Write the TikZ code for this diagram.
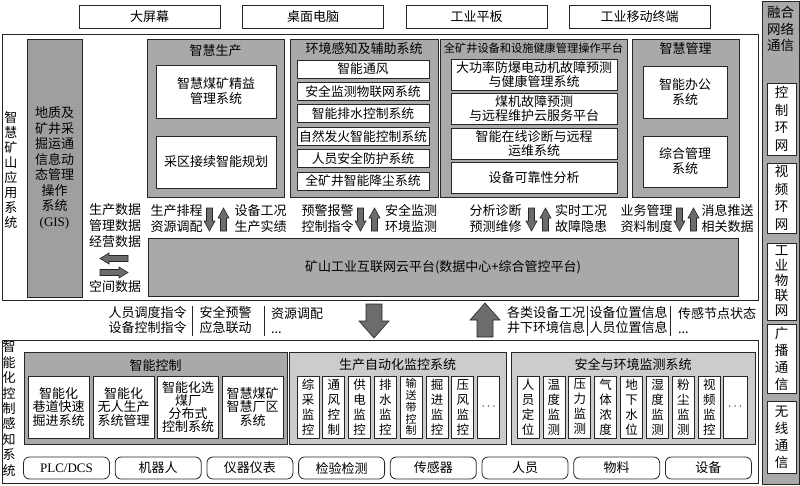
\documentclass[tikz,border=0pt]{standalone}
\usepackage{fontspec}
\setmainfont{Liberation Serif}
\newfontfamily\cjk{Noto Sans CJK SC}
\definecolor{gdark}{HTML}{A9A9A9}
\definecolor{ggis}{HTML}{9F9F9F}
\definecolor{glight}{HTML}{CCCCCC}
\definecolor{garrow}{HTML}{6C6C6C}
\definecolor{linec}{HTML}{262626}
\tikzset{
 fs/.style 2 args={font=\cjk\fontsize{#1}{#2}\selectfont},
 bx/.style 2 args={draw=linec, line width=0.8pt, minimum width=#1pt, minimum height=#2pt},
 wbox/.style 2 args={bx={#1}{#2}, fill=white},
 dbox/.style 2 args={bx={#1}{#2}, fill=gdark},
 lbox/.style 2 args={bx={#1}{#2}, fill=glight},
 rbox/.style={bx={86}{22}, fill=white, rounded corners=6pt},
 arr/.style={fill=garrow, draw=linec, line width=0.6pt, line join=miter},
 sep/.style={draw=linec, line width=0.6pt},
}
\begin{document}
\begin{tikzpicture}[x=1pt,y=-1pt,
 every node/.style={inner sep=0pt, outer sep=0pt, align=center, fs={13}{15}}]
\useasboundingbox (0,0) rectangle (800,485);

% frames
\node[bx={756}{266}] (app) at (380,167) {};
\node[bx={756}{143}] (ctl) at (380,411.5) {};
\node[dbox={37}{483}] (net) at (780.5,242.5) {};

% top devices
\node[wbox={141}{23}] (t1) at (149.5,16.5) {大屏幕};
\node[wbox={141}{23}] (t2) at (313,16.5) {桌面电脑};
\node[wbox={141}{23}] (t3) at (476.5,16.5) {工业平板};
\node[wbox={141}{23}] (t4) at (639.5,16.5) {工业移动终端};

% right column
\node[fs={13.5}{16.5}] (netT) at (780.5,29) {融合\\网络\\通信};
\node[wbox={29}{72}, fs={13.5}{17.5}] (n1) at (781.5,119) {控\\制\\环\\网};
\node[wbox={29}{70}, fs={13.5}{17.5}] (n2) at (781.5,198) {视\\频\\环\\网};
\node[wbox={29}{77}, fs={13.5}{15}] (n3) at (781.5,281.5) {工\\业\\物\\联\\网};
\node[wbox={29}{69}, fs={13.5}{17}] (n4) at (781.5,358.5) {广\\播\\通\\信};
\node[wbox={29}{72}, fs={13.5}{17}] (n5) at (781.5,437) {无\\线\\通\\信};

% upper section
\node (appL) at (11,170) {智\\慧\\矿\\山\\应\\用\\系\\统};
\node[bx={55}{258}, fill=ggis, fs={13}{15.5}] (gis) at (54.5,168) {地质及\\矿井采\\掘运通\\信息动\\态管理\\操作\\系统\\{\rmfamily (GIS)}};

\node[dbox={137}{158}] (m1) at (215.5,118) {};
\node (m1t) at (215.5,51) {智慧生产};
\node[wbox={120}{53}] (m1a) at (216,91.5) {智慧煤矿精益\\管理系统};
\node[wbox={120}{52}] (m1b) at (216,162) {采区接续智能规划};

\node[dbox={148}{158}] (m2) at (364,118) {};
\node (m2t) at (364,49) {环境感知及辅助系统};
\node[wbox={132}{18}, fs={12.8}{15}] (m2a) at (363,69) {智能通风};
\node[wbox={132}{18}, fs={12.8}{15}] (m2b) at (363,91.4) {安全监测物联网系统};
\node[wbox={132}{18}, fs={12.8}{15}] (m2c) at (363,113.8) {智能排水控制系统};
\node[wbox={132}{18}, fs={12.8}{15}] (m2d) at (363,136.2) {自然发火智能控制系统};
\node[wbox={132}{18}, fs={12.8}{15}] (m2e) at (363,158.6) {人员安全防护系统};
\node[wbox={132}{18}, fs={12.8}{15}] (m2f) at (363,181) {全矿井智能降尘系统};

\node[dbox={187}{158}] (m3) at (533.5,118) {};
\node[fs={11.2}{13}] (m3t) at (533.5,48) {全矿井设备和设施健康管理操作平台};
\node[wbox={166}{31}, fs={13}{14}] (m3a) at (534,74.5) {大功率防爆电动机故障预测\\与健康管理系统};
\node[wbox={166}{31}, fs={13}{14}] (m3b) at (534,109) {煤机故障预测\\与远程维护云服务平台};
\node[wbox={166}{31}, fs={13}{14}] (m3c) at (534,143.5) {智能在线诊断与远程\\运维系统};
\node[wbox={166}{31}, fs={13}{14}] (m3d) at (534,177.5) {设备可靠性分析};

\node[dbox={107}{158}] (m4) at (685.5,118) {};
\node (m4t) at (685.5,49) {智慧管理};
\node[wbox={84}{52}] (m4a) at (685,92) {智能办公\\系统};
\node[wbox={84}{51}] (m4b) at (685,161.5) {综合管理\\系统};

% data flow labels
\node[align=left, fs={13}{16}] (ld1) at (115,226) {生产数据\\管理数据\\经营数据};
\node (ld2) at (115,287) {空间数据};
\draw[arr] (100,258.5) -- (109,253) -- (109,255.5) -- (128,255.5) -- (128,261.5) -- (109,261.5) -- (109,264) -- cycle;
\draw[arr] (128,272.5) -- (119,267) -- (119,269.5) -- (100,269.5) -- (100,275.5) -- (119,275.5) -- (119,278) -- cycle;

\node[fs={13}{16.5}] (f1) at (176.5,218.5) {生产排程\\资源调配};
\node[fs={13}{16.5}] (f2) at (260.5,218.5) {设备工况\\生产实绩};
\node[fs={13}{16.5}] (f3) at (327.5,218.5) {预警报警\\控制指令};
\node[fs={13}{16.5}] (f4) at (411,218.5) {安全监测\\环境监测};
\node[fs={13}{16.5}] (f5) at (495.5,218.5) {分析诊断\\预测维修};
\node[fs={13}{16.5}] (f6) at (581,218.5) {实时工况\\故障隐患};
\node[fs={13}{16.5}] (f7) at (646.5,218.5) {业务管理\\资料制度};
\node[fs={13}{16.5}] (f8) at (727.5,218.5) {消息推送\\相关数据};
\foreach \c in {209.5,360.5,531.5,679.5}{
 \draw[arr] (\c-3,208) -- (\c+3,208) -- (\c+3,221) -- (\c+5.5,221) -- (\c,231) -- (\c-5.5,221) -- (\c-3,221) -- cycle;
 \draw[arr] (\c+14-3,231) -- (\c+14+3,231) -- (\c+14+3,218) -- (\c+14+5.5,218) -- (\c+14,208) -- (\c+14-5.5,218) -- (\c+14-3,218) -- cycle;
}

\node[dbox={590}{58}] (cloud) at (443,267) {矿山工业互联网云平台(数据中心+综合管控平台)};

% band between sections
\node (b1) at (147.5,320.5) {人员调度指令\\设备控制指令};
\node (b2) at (225.5,320.5) {安全预警\\应急联动};
\node[align=left, anchor=west] (b3) at (271,320.5) {资源调配\\...};
\node (b4) at (546,320.5) {各类设备工况\\井下环境信息};
\node (b5) at (628.5,320.5) {设备位置信息\\人员位置信息};
\node[align=left, anchor=west] (b6) at (678,320.5) {传感节点状态\\...};
\coordinate (s1a) at (192,306); \coordinate (s1b) at (192,336);
\coordinate (s2a) at (264,306); \coordinate (s2b) at (264,336);
\coordinate (s3a) at (587,306); \coordinate (s3b) at (587,336);
\coordinate (s4a) at (670,306); \coordinate (s4b) at (670,336);
\draw[sep] (s1a) -- (s1b); \draw[sep] (s2a) -- (s2b);
\draw[sep] (s3a) -- (s3b); \draw[sep] (s4a) -- (s4b);
\draw[arr] (366,304) -- (382,304) -- (382,321) -- (389,321) -- (374,338) -- (359,321) -- (366,321) -- cycle;
\draw[arr] (477,337) -- (493,337) -- (493,320) -- (500,320) -- (485,303) -- (470,320) -- (477,320) -- cycle;

% lower section
\node[fs={13}{15.4}] (ctlL) at (9,408.5) {智\\能\\化\\控\\制\\感\\知\\系\\统};

\node[dbox={263}{92}] (g1) at (155.5,398) {};
\node (g1t) at (155.5,366) {智能控制};
\node[wbox={61}{62}, fs={13}{13.5}] (g1a) at (58.5,407) {智能化\\巷道快速\\掘进系统};
\node[wbox={61}{62}, fs={13}{13.5}] (g1b) at (123.5,407) {智能化\\无人生产\\系统管理};
\node[wbox={61}{62}, fs={13}{13}] (g1c) at (188,407) {智能化选\\煤厂\\分布式\\控制系统};
\node[wbox={61}{62}, fs={13}{13.5}] (g1d) at (252.5,407) {智慧煤矿\\智慧厂区\\系统};

\node[lbox={217}{92}] (g2) at (397.5,398) {};
\node (g2t) at (397.5,365) {生产自动化监控系统};
\foreach \i/\t in {0/综\\采\\监\\控,1/通\\风\\控\\制,2/供\\电\\监\\控,3/排\\水\\监\\控,5/掘\\进\\监\\控,6/压\\风\\监\\控}
 \node[wbox={22}{62}, fs={12.5}{15}] (pa\i) at (308+\i*25.8,407) {\t};
\node[wbox={22}{62}, fs={11}{11.8}] (pa4) at (308+4*25.8,407) {输\\送\\带\\控\\制};
\node[wbox={22}{62}] (pa7) at (308+7*25.8,407) {$\cdots$};

\node[lbox={244}{92}] (g3) at (633,398) {};
\node (g3t) at (633,365) {安全与环境监测系统};
\foreach \i/\t in {0/人\\员\\定\\位,1/温\\度\\监\\测,2/压\\力\\监\\测,3/气\\体\\浓\\度,4/地\\下\\水\\位,5/湿\\度\\监\\测,6/粉\\尘\\监\\测,7/视\\频\\监\\控}
 \node[wbox={22}{62}, fs={12.5}{15}] (pb\i) at (528+\i*25.9,407) {\t};
\node[wbox={24}{62}] (pb8) at (735.2,407) {$\cdots$};

\node[rbox] (r1) at (66.5,468) {\rmfamily PLC/DCS};
\node[rbox] (r2) at (158.2,468) {机器人};
\node[rbox] (r3) at (249.9,468) {仪器仪表};
\node[rbox] (r4) at (341.6,468) {检验检测};
\node[rbox] (r5) at (433.3,468) {传感器};
\node[rbox] (r6) at (525,468) {人员};
\node[rbox] (r7) at (616.7,468) {物料};
\node[rbox] (r8) at (708.4,468) {设备};
\end{tikzpicture}
\end{document}
